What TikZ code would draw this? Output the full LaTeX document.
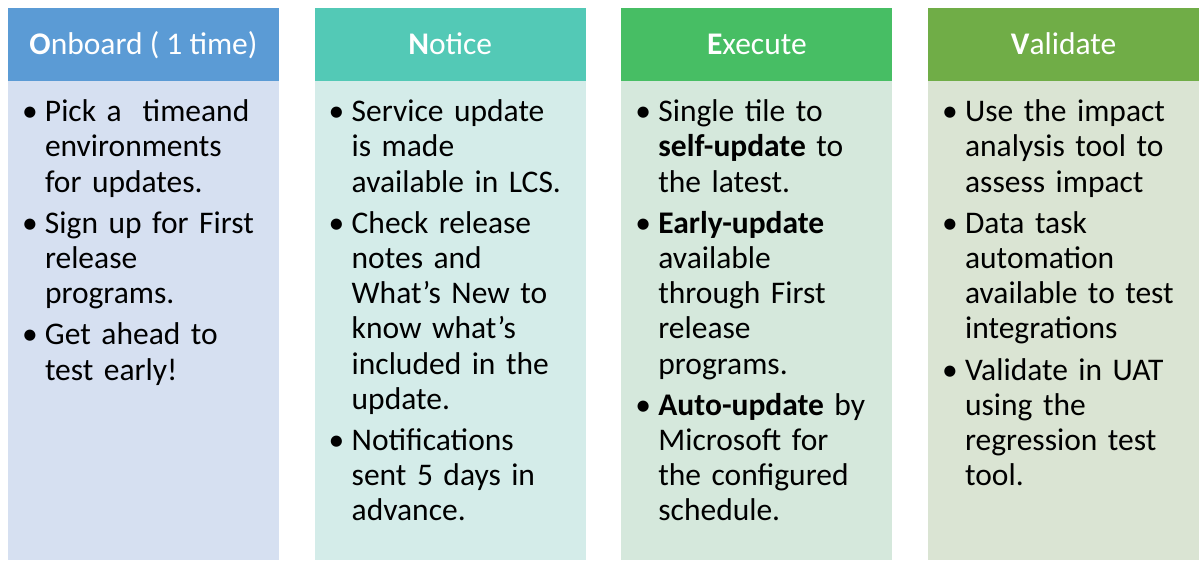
\documentclass[tikz,border=0pt]{standalone}
\usepackage{fontspec}
\setmainfont{Carlito}
\usepackage{tikz}
\usetikzlibrary{positioning}
\usepackage{xcolor}

\definecolor{onboardHead}{RGB}{91,155,213}
\definecolor{onboardFill}{RGB}{214,224,241}
\definecolor{noticeHead}{RGB}{83,201,182}
\definecolor{noticeFill}{RGB}{212,236,233}
\definecolor{executeHead}{RGB}{71,190,100}
\definecolor{executeFill}{RGB}{213,232,220}
\definecolor{validateHead}{RGB}{112,173,71}
\definecolor{validateFill}{RGB}{218,228,211}

% one bullet point, later lines hang under the text
\newcommand{\bitem}[1]{\parskip=6pt\hangindent=23pt\hangafter=1\noindent\strut\makebox[23pt][l]{\textbullet}#1\par}

\begin{document}
\begin{tikzpicture}[x=1pt, y=1pt,
        every node/.style={font=\fontsize{31.5}{35.2}\selectfont, inner sep=0pt, outer sep=0pt},
        head/.style={minimum width=271pt, minimum height=73pt, text=white, text height=19pt, text depth=0pt},
        panel/.style={minimum width=271pt, minimum height=479pt},
        points/.style={text width=250pt}]
        \useasboundingbox (0,0) rectangle (1204,-565);

        \node[head, fill=onboardHead] (onboardHd) at (143.5,-44.5) {\textbf{O}nboard ( 1 time)};
        \node[head, fill=noticeHead, right=35.7pt of onboardHd] (noticeHd) {\textbf{N}otice};
        \node[head, fill=executeHead, right=35.7pt of noticeHd] (executeHd) {\textbf{E}xecute};
        \node[head, fill=validateHead, right=35.7pt of executeHd] (validateHd) {\textbf{V}alidate};

        \node[panel, fill=onboardFill, below=0pt of onboardHd] (onboard) {};
        \node[panel, fill=noticeFill, below=0pt of noticeHd] (notice) {};
        \node[panel, fill=executeFill, below=0pt of executeHd] (execute) {};
        \node[panel, fill=validateFill, below=0pt of validateHd] (validate) {};

        \node[points, below right=16pt and 14pt of onboard.north west] (onboardList) {%
            \bitem{Pick a\ \ timeand\newline environments\newline for updates.}
            \bitem{Sign up for First\newline release\newline programs.}
            \bitem{Get ahead to\newline test early!}};
        \node[points, below right=16pt and 14pt of notice.north west] (noticeList) {%
            \bitem{Service update\newline is made\newline available in LCS.}
            \bitem{Check release\newline notes and\newline What’s New to\newline know what’s\newline included in the\newline update.}
            \bitem{Notifications\newline sent 5 days in\newline advance.}};
        \node[points, below right=16pt and 14pt of execute.north west] (executeList) {%
            \bitem{Single tile to\newline \textbf{self-update} to\newline the latest.}
            \bitem{\textbf{Early-update}\newline available\newline through First\newline release\newline programs.}
            \bitem{\textbf{Auto-update} by\newline Microsoft for\newline the configured\newline schedule.}};
        \node[points, below right=16pt and 14pt of validate.north west] (validateList) {%
            \bitem{Use the impact\newline analysis tool to\newline assess impact}
            \bitem{Data task\newline automation\newline available to test\newline integrations}
            \bitem{Validate in UAT\newline using the\newline regression test\newline tool.}};
\end{tikzpicture}
\end{document}
